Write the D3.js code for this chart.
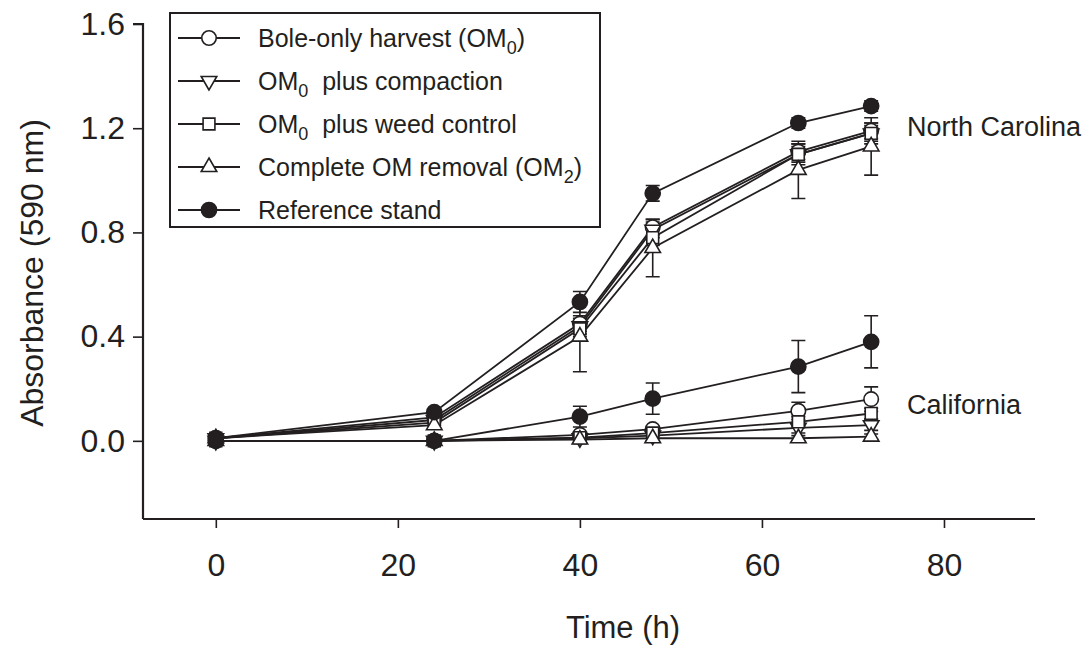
<!DOCTYPE html>
<html><head><meta charset="utf-8">
<script src="https://cdn.jsdelivr.net/npm/d3@7"></script>
<style>body{margin:0;background:#fff}svg{display:block}text{font-family:"Liberation Sans",Arial,sans-serif;fill:#231f20}</style>
</head><body>
<svg id="c" width="1091" height="649"></svg>
<script>
const times = [0, 24, 40, 48, 64, 72];
const seriesNames = ["bole", "compaction", "weed", "om2", "reference"];
// North Carolina
const ncBole = [0.01, 0.09, 0.45, 0.82, 1.11, 1.19];
const ncCompaction = [0.01, 0.08, 0.44, 0.81, 1.10, 1.18];
const ncWeed = [0.01, 0.07, 0.43, 0.78, 1.10, 1.18];
const ncOM2 = [0.01, 0.06, 0.40, 0.74, 1.04, 1.13];
const ncRef = [0.01, 0.11, 0.533, 0.95, 1.22, 1.285];
const ncBoleErr = [0.005, 0.01, 0.03, 0.03, 0.03, 0.03];
const ncCompactionErr = [0.005, 0.01, 0.03, 0.03, 0.03, 0.03];
const ncWeedErr = [0.005, 0.01, 0.03, 0.03, 0.04, 0.04];
const ncOM2Err = [0.005, 0.01, 0.135, 0.11, 0.11, 0.11];
const ncRefErr = [0.005, 0.01, 0.04, 0.03, 0.02, 0.02];
// California
const caBole = [0.0, 0.0, 0.023, 0.045, 0.115, 0.16];
const caCompaction = [0.0, 0.0, 0.01, 0.02, 0.05, 0.06];
const caWeed = [0.0, 0.0, 0.012, 0.03, 0.073, 0.105];
const caOM2 = [0.0, 0.0, 0.005, 0.01, 0.01, 0.016];
const caRef = [0.0, 0.0, 0.093, 0.162, 0.285, 0.38];
const caBoleErr = [0, 0, 0.01, 0.01, 0.033, 0.047];
const caCompactionErr = [0, 0, 0.005, 0.01, 0.02, 0.02];
const caWeedErr = [0, 0, 0.005, 0.01, 0.02, 0.02];
const caOM2Err = [0, 0, 0.005, 0.01, 0.01, 0.01];
const caRefErr = [0, 0, 0.04, 0.06, 0.1, 0.1];

const xTicks = [0, 20, 40, 60, 80];
const yTicks = [0.0, 0.4, 0.8, 1.2, 1.6];
const legendLabels = [
  [["Bole-only harvest (OM", 0], ["0", 1], [")", 0]],
  [["OM", 0], ["0", 1], ["  plus compaction", 0]],
  [["OM", 0], ["0", 1], ["  plus weed control", 0]],
  [["Complete OM removal (OM", 0], ["2", 1], [")", 0]],
  [["Reference stand", 0]]
];
const regionLabels = ["North Carolina", "California"];

const svg = d3.select("#c");
const x = d3.scaleLinear().domain([-8, 90]).range([143, 1035]);
const y = d3.scaleLinear().domain([-0.3, 1.6]).range([519, 24]);
const ink = "#231f20";
const font = '"Liberation Sans",Arial,sans-serif';

const shapes = {
  bole: {type: d3.symbolCircle, size: 165, rot: 0, fill: "#fff"},
  compaction: {type: d3.symbolTriangle, size: 105, rot: 180, fill: "#fff"},
  weed: {type: d3.symbolSquare, size: 140, rot: 0, fill: "#fff"},
  om2: {type: d3.symbolTriangle, size: 105, rot: 0, fill: "#fff"},
  reference: {type: d3.symbolCircle, size: 180, rot: 0, fill: ink}
};

// axes
const yAxis = d3.axisLeft(y).tickValues(yTicks).tickFormat(d3.format(".1f")).tickSize(10).tickPadding(8);
const gy = svg.append("g").attr("transform", `translate(${x(-8)},0)`).call(yAxis);
const xAxis = d3.axisBottom(x).tickValues(xTicks).tickSize(9).tickPadding(25);
const gx = svg.append("g").attr("transform", `translate(0,${y(-0.3)})`).call(xAxis);
[gy, gx].forEach(g => {
  g.select(".domain").attr("stroke", ink).attr("stroke-width", 2.2);
  g.selectAll(".tick line").attr("stroke", ink).attr("stroke-width", 1.6);
  g.selectAll(".tick text").attr("font-size", 32).attr("fill", ink).attr("font-family", font);
});
gy.select(".domain").attr("d", `M-10,${y(1.6)}H0V${y(-0.3)}`);
gx.select(".domain").attr("d", `M${x(-8)},0H${x(90)}`);

svg.append("text").attr("x", 623).attr("y", 638).attr("text-anchor", "middle").attr("font-size", 31).text("Time (h)");
svg.append("text").attr("transform", "translate(43,273) rotate(-90)").attr("text-anchor", "middle").attr("font-size", 32).text("Absorbance (590 nm)");

function drawGroup(vals, errs) {
  const g = svg.append("g");
  const line = d3.line().x((d, i) => x(times[i])).y(d => y(d));
  seriesNames.forEach((s, k) => {
    g.append("path").attr("d", line(vals[k])).attr("fill", "none").attr("stroke", ink).attr("stroke-width", 1.8);
  });
  seriesNames.forEach((s, k) => {
    vals[k].forEach((v, i) => {
      const e = errs[k][i];
      if (e <= 0) return;
      const cx = x(times[i]);
      g.append("path").attr("d", `M${cx},${y(v - e)}V${y(v + e)}M${cx - 7},${y(v - e)}h14M${cx - 7},${y(v + e)}h14`)
        .attr("stroke", ink).attr("stroke-width", 1.6).attr("fill", "none");
    });
  });
  seriesNames.forEach((s, k) => {
    const sh = shapes[s];
    const sym = d3.symbol().type(sh.type).size(sh.size);
    vals[k].forEach((v, i) => {
      g.append("path").attr("d", sym()).attr("transform", `translate(${x(times[i])},${y(v)}) rotate(${sh.rot})`)
        .attr("fill", sh.fill).attr("stroke", ink).attr("stroke-width", 1.6);
    });
  });
}
drawGroup([caBole, caCompaction, caWeed, caOM2, caRef], [caBoleErr, caCompactionErr, caWeedErr, caOM2Err, caRefErr]);
drawGroup([ncBole, ncCompaction, ncWeed, ncOM2, ncRef], [ncBoleErr, ncCompactionErr, ncWeedErr, ncOM2Err, ncRefErr]);

svg.append("text").attr("x", 907).attr("y", 136).attr("font-size", 27).text(regionLabels[0]);
svg.append("text").attr("x", 907).attr("y", 414).attr("font-size", 27).text(regionLabels[1]);

// legend
const lg = svg.append("g");
lg.append("rect").attr("x", 170).attr("y", 13).attr("width", 430).attr("height", 214).attr("fill", "#fff").attr("stroke", ink).attr("stroke-width", 2);
legendLabels.forEach((parts, k) => {
  const yy = 38 + k * 43;
  lg.append("path").attr("d", `M178,${yy}H240`).attr("stroke", ink).attr("stroke-width", 1.8);
  const sh = shapes[seriesNames[k]];
  lg.append("path").attr("d", d3.symbol().type(sh.type).size(sh.size)()).attr("transform", `translate(209,${yy}) rotate(${sh.rot})`)
    .attr("fill", sh.fill).attr("stroke", ink).attr("stroke-width", 1.6);
  const t = lg.append("text").attr("x", 258).attr("y", yy + 9).attr("font-size", 25).attr("xml:space", "preserve").style("white-space", "pre");
  parts.forEach(([str, sub]) => {
    const ts = t.append("tspan").text(str);
    if (sub) ts.attr("font-size", 18).attr("dy", 7);
    else if (t.selectAll("tspan").size() > 1) ts.attr("dy", -7);
  });
});
</script>
</body></html>
